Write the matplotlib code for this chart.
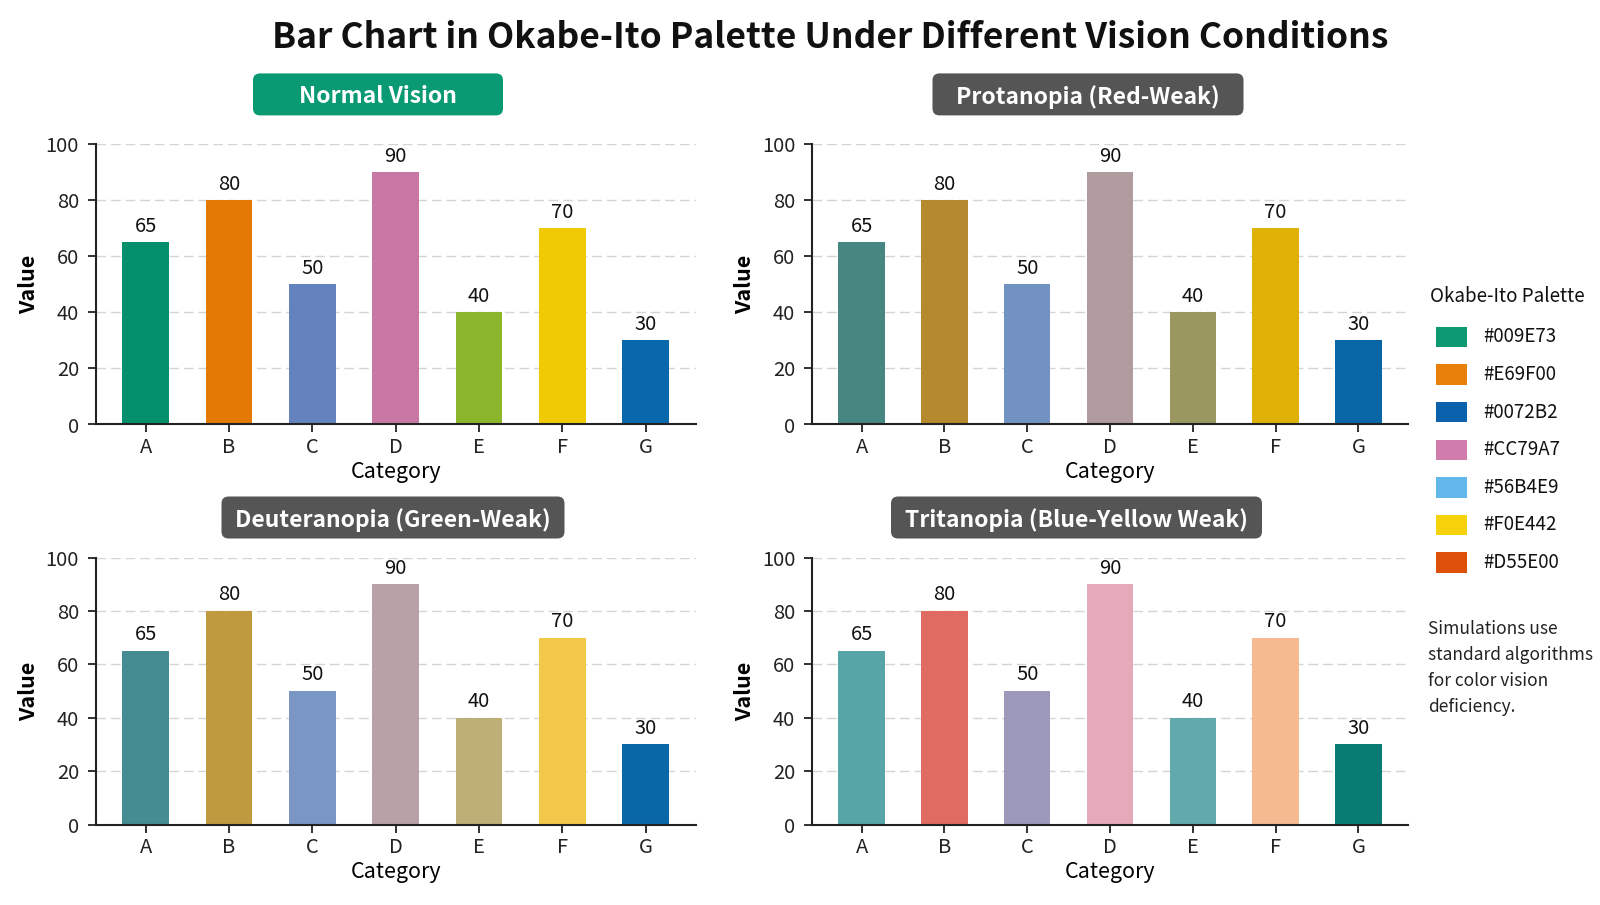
import matplotlib
matplotlib.use('Agg')
import matplotlib.pyplot as plt
from matplotlib.patches import FancyBboxPatch, Rectangle

plt.rcParams['font.family'] = ['Noto Sans CJK JP', 'DejaVu Sans']

# ---------------- data ----------------
categories = ['A', 'B', 'C', 'D', 'E', 'F', 'G']
values = [65, 80, 50, 90, 40, 70, 30]

normal_colors = ['#05906D', '#E47A05', '#6483BE', '#C978A5', '#8BB52A', '#F0CB05', '#0968AB']
protan_colors = ['#478782', '#B58A2E', '#7292C4', '#B09C9E', '#9A9860', '#E0B208', '#0966A6']
deutan_colors = ['#448C91', '#C09A3E', '#7A96C4', '#B8A2A8', '#BDAF76', '#F2C84A', '#0967A8']
tritan_colors = ['#58A5A8', '#E06B63', '#9D99BB', '#E5AABA', '#61A9AA', '#F5BA90', '#087B72']

panel_titles = ['Normal Vision', 'Protanopia (Red-Weak)',
                'Deuteranopia (Green-Weak)', 'Tritanopia (Blue-Yellow Weak)']
panel_title_colors = ['#0A9A73', '#555555', '#555555', '#555555']

palette_hex = ['#009E73', '#E69F00', '#0072B2', '#CC79A7', '#56B4E9', '#F0E442', '#D55E00']
palette_swatch = ['#0D9A72', '#E8800A', '#0A62AC', '#D07CAC', '#62B8EA', '#F5D20A', '#DC500A']

main_title = 'Bar Chart in Okabe-Ito Palette Under Different Vision Conditions'
legend_title = 'Okabe-Ito Palette'
note_text = 'Simulations use\nstandard algorithms\nfor color vision\ndeficiency.'

# ---------------- layout (pixels) ----------------
W, H = 1600, 905
fig = plt.figure(figsize=(W / 100, H / 100), dpi=100)
fig.patch.set_facecolor('white')

def rect(x0, y_top, w, y_bot):
    return [x0 / W, 1 - y_bot / H, w / W, (y_bot - y_top) / H]

axes_rects = [rect(95.7, 144.3, 600, 424.5), rect(812, 144.3, 596, 424.5),
              rect(95.7, 557.5, 600, 824.5), rect(812, 557.5, 596, 824.5)]
color_sets = [normal_colors, protan_colors, deutan_colors, tritan_colors]
box_centers = [(378, 94.4), (1088, 94.4), (393, 517.5), (1076.5, 517.5)]
box_widths = [250, 311, 343, 371]

axes = []
for r, cols in zip(axes_rects, color_sets):
    ax = fig.add_axes(r)
    x = list(range(len(categories)))
    ax.bar(x, values, width=0.56, color=cols, zorder=2)
    for xi, v in zip(x, values):
        ax.annotate(f'{v}', (xi, v), xytext=(0, 4), textcoords='offset points',
                    ha='center', va='bottom', fontsize=14.5, color='#111111')
    ax.set_xticks(x)
    ax.set_xticklabels(categories)
    ax.set_xlim(-0.6, 6.6)
    ax.set_ylim(0, 100)
    ax.set_yticks([0, 20, 40, 60, 80, 100])
    ax.set_axisbelow(True)
    ax.yaxis.grid(True, color='#d4d4d4', linestyle=(0, (7, 3.5)), linewidth=1.0)
    for s in ['top', 'right']:
        ax.spines[s].set_visible(False)
    for s in ['left', 'bottom']:
        ax.spines[s].set_linewidth(1.5)
        ax.spines[s].set_color('#222222')
    ax.tick_params(axis='both', labelsize=14.5, colors='#222222', width=1.3, length=6)
    ax.tick_params(axis='y', pad=6)
    ax.tick_params(axis='x', pad=3)
    ax.set_ylabel('Value', fontsize=15.5, fontweight='bold', labelpad=5)
    ax.set_xlabel('Category', fontsize=15.5, fontweight='normal', labelpad=2)
    axes.append(ax)

# main title
fig.text(830 / W, 1 - 37 / H, main_title, ha='center', va='center',
         fontsize=25.5, fontweight='bold', color='#111111')

# panel title boxes
box_h = 42
for (cx, cy), title, col, bw in zip(box_centers, panel_titles, panel_title_colors, box_widths):
    fig.text(cx / W, 1 - (cy + 2.5) / H, title, ha='center', va='center', color='white',
             fontsize=16.5, fontweight='bold', zorder=5)
    p = FancyBboxPatch(((cx - bw / 2) / W, 1 - (cy + box_h / 2) / H), bw / W, box_h / H,
                       boxstyle=f'round,pad=0,rounding_size={7 / W}',
                       mutation_aspect=W / H, transform=fig.transFigure,
                       fc=col, ec='none', zorder=4)
    fig.add_artist(p)

# legend
fig.text(1430 / W, 1 - 296 / H, legend_title, ha='left', va='center',
         fontsize=13.5, fontweight='normal', color='#111111')
row0, pitch = 337, 37.6
for i, (hx, sc) in enumerate(zip(palette_hex, palette_swatch)):
    yc = row0 + i * pitch
    fig.add_artist(Rectangle((1436 / W, 1 - (yc + 10.3) / H), 30.5 / W, 20.6 / H,
                             transform=fig.transFigure, fc=sc, ec='none'))
    fig.text(1483 / W, 1 - yc / H, hx, ha='left', va='center', fontsize=13.5, color='#111111')

fig.text(1428 / W, 1 - 620 / H, note_text, ha='left', va='top', fontsize=12.5,
         color='#222222', linespacing=1.58)

fig.savefig('out.png', dpi=100, facecolor='white')
